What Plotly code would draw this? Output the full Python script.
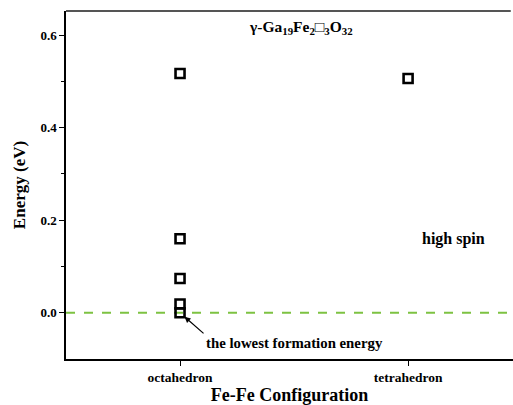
import plotly.graph_objects as go

configs = ["octahedron", "octahedron", "octahedron", "octahedron", "octahedron", "tetrahedron"]
energies = [0.517, 0.160, 0.074, 0.019, 0.0, 0.506]
cat_positions = {"octahedron": 1, "tetrahedron": 2}
tick_vals = [1, 2]
tick_text = ["octahedron", "tetrahedron"]
y_ticks = [0.0, 0.2, 0.4, 0.6]

FONT = "Liberation Serif"

fig = go.Figure()
fig.add_trace(go.Scatter(
    x=[cat_positions[c] for c in configs], y=energies, mode="markers",
    marker=dict(symbol="square-open", size=9, color="black", line=dict(width=2.6, color="black")),
    showlegend=False, cliponaxis=False,
))

fig.add_shape(type="line", xref="paper", yref="y", x0=0, x1=1, y0=0, y1=0,
              line=dict(color="#7dc242", width=2, dash="dash"), layer="below")

fig.add_annotation(x=1, y=0, xref="x", yref="y", ax=205 - 180, ay=335 - 313,
                   text="", showarrow=True, arrowhead=2, arrowsize=1, arrowwidth=1.2,
                   arrowcolor="black", standoff=6)
fig.add_annotation(x=1.5, y=-0.065, xref="x", yref="y",
                   text="<b>the lowest formation energy</b>", showarrow=False,
                   font=dict(family=FONT, size=14.8, color="black"))
fig.add_annotation(x=1.53, y=0.617, xref="x", yref="y",
                   text="<b>γ-Ga<sub>19</sub>Fe<sub>2</sub>□<sub>3</sub>O<sub>32</sub></b>",
                   showarrow=False, font=dict(family=FONT, size=15.5, color="black"))
fig.add_annotation(x=2.2, y=0.16, xref="x", yref="y", text="<b>high spin</b>",
                   showarrow=False, font=dict(family=FONT, size=16, color="black"))

fig.update_layout(
    width=513, height=405,
    margin=dict(l=66, r=0, t=11, b=46, autoexpand=False),
    paper_bgcolor="white", plot_bgcolor="white",
    font=dict(family=FONT, color="black"),
    xaxis=dict(range=[0.5, 2.46], tickvals=tick_vals, ticktext=["<b>" + t + "</b>" for t in tick_text],
               ticks="outside", ticklen=5, tickwidth=1, tickcolor="black",
               showline=True, linecolor="black", linewidth=1.5, mirror=False,
               showgrid=False, zeroline=False, automargin=False,
               tickfont=dict(family=FONT, size=13.5, color="black"),
               title=dict(text="<b>Fe-Fe Configuration</b>", font=dict(family=FONT, size=18), standoff=6)),
    yaxis=dict(range=[-0.1, 0.652], tickvals=y_ticks, ticktext=["<b>0.0</b>", "<b>0.2</b>", "<b>0.4</b>", "<b>0.6</b>"],
               ticks="outside", ticklen=5, tickwidth=1, tickcolor="black",
               minor=dict(tickvals=[0.1, 0.3, 0.5], ticks="outside", ticklen=3, tickcolor="black"),
               showline=True, linecolor="black", linewidth=1.5, mirror=False,
               showgrid=False, zeroline=False, automargin=False,
               tickfont=dict(family=FONT, size=13, color="black"),
               title=dict(text="<b>Energy (eV)</b>", font=dict(family=FONT, size=17), standoff=10)),
)
fig.add_shape(type="line", xref="paper", yref="paper", x0=0, x1=0.995, y0=1, y1=1,
              line=dict(color="#555555", width=2))

fig.write_html("out.html", config={"displayModeBar": False},
               post_script="document.body.style.margin='0';document.body.style.padding='0';document.body.style.overflow='hidden';")
